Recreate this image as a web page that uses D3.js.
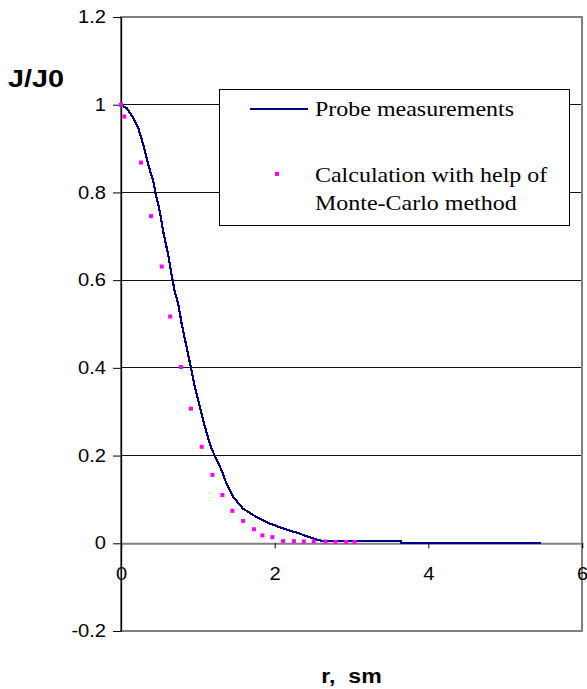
<!DOCTYPE html>
<meta charset="utf-8">
<style>
body { margin: 0; background: #fff; }
svg { display: block; }
.tick text { font-family: Arial, "Liberation Sans", sans-serif; font-size: 17.5px; fill: #000; }
.title { font-family: Arial, "Liberation Sans", sans-serif; font-weight: bold; }
.legend text { font-family: "Times New Roman", "Liberation Serif", serif; font-size: 22px; }
</style>
<svg width="587" height="689"></svg>
<script src="https://d3js.org/d3.v7.min.js"></script>
<script>

// probe measurements, r (sm) and J/J0
var probeR = [0, 0.074, 0.16, 0.225, 0.29, 0.355, 0.42, 0.45, 0.506, 0.55, 0.614, 0.658, 0.70,
  0.744, 0.788, 0.853, 0.909, 0.961, 1.026, 1.091, 1.169, 1.221, 1.308, 1.373, 1.458, 1.588,
  1.762, 1.935, 2.108, 2.325, 2.497, 2.627, 3.64, 3.65, 5.47];
var probeJ = [1.0, 0.992, 0.970, 0.947, 0.909, 0.863, 0.825, 0.798, 0.756, 0.710, 0.658, 0.612, 0.574,
  0.547, 0.502, 0.448, 0.401, 0.357, 0.311, 0.266, 0.220, 0.199, 0.167, 0.136, 0.106, 0.079,
  0.060, 0.045, 0.034, 0.022, 0.011, 0.005, 0.005, 0, 0];

// Monte-Carlo calculation
var mcR = [0, 0.043, 0.26, 0.39, 0.53, 0.64, 0.78, 0.91, 1.05, 1.19, 1.32, 1.45, 1.59, 1.73,
  1.84, 1.97, 2.11, 2.25, 2.38, 2.51, 2.66, 2.79, 2.93, 3.04];
var mcJ = [1.0, 0.973, 0.868, 0.746, 0.631, 0.517, 0.402, 0.307, 0.22, 0.156, 0.110, 0.074, 0.051, 0.032,
  0.018, 0.014, 0.005, 0.005, 0.004, 0.004, 0.004, 0.003, 0.003, 0.003];

var xTicks = [0, 2, 4, 6];
var yTicks = [-0.2, 0, 0.2, 0.4, 0.6, 0.8, 1, 1.2];
var gridVals = [0.2, 0.4, 0.6, 0.8, 1];

var legendLabels = ["Probe measurements", "Calculation with help of", "Monte-Carlo method"];

var svg = d3.select("svg");
var sx = 1.15; // text in the original is a bit wide

var x = d3.scaleLinear().domain([0, 6]).range([121, 582]);
var y = d3.scaleLinear().domain([-0.2, 1.2]).range([631, 17]);

// gridlines
svg.append("g").selectAll("line")
  .data(gridVals).enter().append("line")
  .attr("x1", x(0)).attr("x2", x(6))
  .attr("y1", function(d) { return y(d); })
  .attr("y2", function(d) { return y(d); })
  .style("stroke", "#111").style("stroke-width", 1)
  .style("shape-rendering", "crispEdges");

// plot border (grey)
svg.append("rect")
  .attr("x", x(0)).attr("y", y(1.2))
  .attr("width", x(6) - x(0)).attr("height", y(-0.2) - y(1.2))
  .style("fill", "none").style("stroke", "#808080").style("stroke-width", 2);

// x axis through zero
var xAxis = svg.append("g")
  .attr("transform", "translate(0," + y(0) + ")")
  .call(d3.axisBottom(x).tickValues(xTicks).tickSize(5).tickPadding(19)
    .tickFormat(function(d) { return String(d); }));
xAxis.select(".domain").style("stroke", "#808080").style("stroke-width", 2);
xAxis.selectAll(".tick line").style("stroke", "#000");
xAxis.selectAll(".tick text").attr("transform", "scale(" + sx + ",1)");

// y axis
var yAxis = svg.append("g")
  .attr("transform", "translate(" + x(0) + ",0)")
  .call(d3.axisLeft(y).tickValues(yTicks).tickSizeInner(8).tickSizeOuter(0).tickPadding(5)
    .tickFormat(function(d) { return String(d); }));
yAxis.select(".domain").style("stroke", "#000").style("stroke-width", 1.3);
yAxis.selectAll(".tick line").style("stroke", "#000");
yAxis.selectAll(".tick text").attr("transform", "scale(" + sx + ",1)");

// probe curve
var line = d3.line()
  .x(function(d, i) { return x(probeR[i]); })
  .y(function(d, i) { return y(probeJ[i]); });
svg.append("path")
  .datum(probeJ)
  .attr("d", line)
  .style("fill", "none").style("stroke", "#000080").style("stroke-width", 2.2)
  .style("shape-rendering", "crispEdges");

// Monte-Carlo points
svg.append("g").selectAll("rect")
  .data(mcJ).enter().append("rect")
  .attr("x", function(d, i) { return x(mcR[i]) - 2; })
  .attr("y", function(d) { return y(d) - 2; })
  .attr("width", 4).attr("height", 4)
  .style("fill", "#ff00ff");

// axis titles
svg.append("text").attr("class", "title")
  .style("font-size", "24px")
  .attr("transform", "translate(8,87) scale(1.2,1)")
  .text("J/J0");
svg.append("text").attr("class", "title")
  .style("font-size", "21px")
  .attr("text-anchor", "middle")
  .attr("transform", "translate(" + ((x(0) + x(6)) / 2) + ",683) scale(1.1,1)")
  .text("r,\u00a0\u00a0sm");

// legend
var lg = svg.append("g").attr("class", "legend");
lg.append("rect")
  .attr("x", 219.5).attr("y", 89.5).attr("width", 350).attr("height", 136)
  .style("fill", "#fff").style("stroke", "#000").style("stroke-width", 1);
lg.append("line")
  .attr("x1", 250).attr("x2", 308).attr("y1", 109).attr("y2", 109)
  .style("stroke", "#000080").style("stroke-width", 2);
lg.append("rect")
  .attr("x", 275).attr("y", 172).attr("width", 4).attr("height", 4)
  .style("fill", "#ff00ff");
lg.selectAll("text")
  .data(legendLabels).enter().append("text")
  .attr("transform", function(d, i) {
    var ty = [116, 182, 210][i];
    return "translate(315," + ty + ") scale(1.09,1)";
  })
  .text(function(d) { return d; });

</script>
